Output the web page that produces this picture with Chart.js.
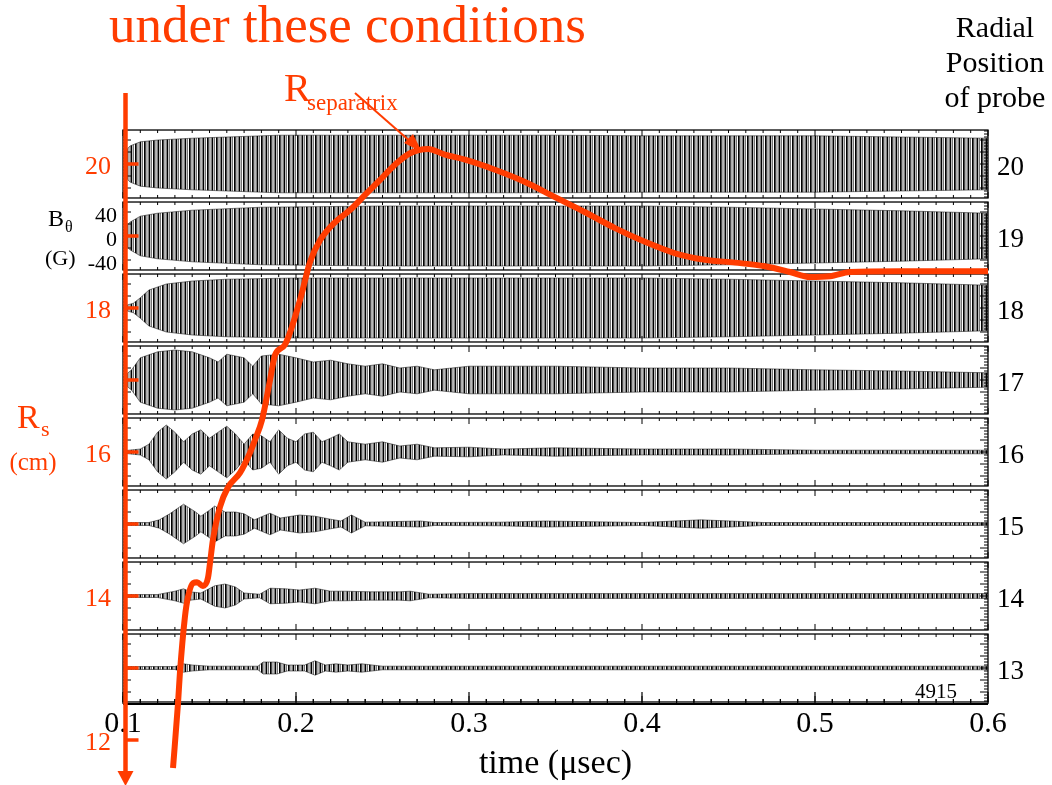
<!DOCTYPE html>
<html><head><meta charset="utf-8">
<script src="https://cdn.jsdelivr.net/npm/chart.js@4.4.1/dist/chart.umd.min.js"></script>
<style>html,body{margin:0;padding:0;background:#fff;}canvas{display:block}</style>
</head><body>
<canvas id="c" width="1052" height="785"></canvas>
<script>
// ---------- data ----------
const timeTicks = [0.1, 0.2, 0.3, 0.4, 0.5, 0.6];
const probePositions = [20, 19, 18, 17, 16, 15, 14, 13];
const rsLabels = [12, 14, 16, 18, 20];
const rsTicks = [12, 13, 14, 15, 16, 17, 18, 19, 20];
const bLabels = [40, 0, -40];

// R_separatrix (cm) vs time (usec)
const sepTime = [0.1289,0.1318,0.1329,0.1358,0.1376,0.1405,0.1428,0.1462,0.1491,0.1503,0.1520,0.1561,0.1607,0.1676,0.1734,0.1763,0.1803,0.1850,0.1879,0.1936,0.2023,0.2081,0.2139,0.2225,0.2312,0.2399,0.2486,0.2572,0.2659,0.2763,0.2861,0.2977,0.3150,0.3324,0.3497,0.3671,0.3844,0.4017,0.4191,0.4364,0.4538,0.4711,0.4855,0.4971,0.5087,0.5202,0.5491,0.6000];
const sepRadius = [11.61,12.51,12.93,13.71,13.99,14.18,14.19,14.14,14.25,14.46,14.78,15.24,15.51,15.71,15.99,16.17,16.44,17.00,17.35,17.49,18.11,18.64,18.94,19.19,19.36,19.57,19.78,19.99,20.15,20.21,20.13,20.06,19.92,19.75,19.54,19.33,19.11,18.92,18.76,18.67,18.63,18.58,18.50,18.43,18.44,18.50,18.51,18.51];

// B_theta envelope amplitude (G) of each probe signal
const env20Time = [0.100,0.104,0.110,0.120,0.140,0.160,0.190,0.250,0.300,0.350,0.400,0.450,0.500,0.550,0.600];
const env20Amp  = [17,30,37,40,43,45,48,48,48,48,47,47,47,45,43];
const env19Time = [0.100,0.104,0.110,0.120,0.140,0.180,0.250,0.300,0.350,0.400,0.450,0.500,0.550,0.600];
const env19Amp  = [10,23,33,38,43,48,50,50,50,50,48,45,42,38];
const env18Time = [0.100,0.106,0.110,0.115,0.125,0.140,0.160,0.200,0.300,0.400,0.450,0.500,0.550,0.600];
const env18Amp  = [3,8,17,30,40,45,48,50,50,50,48,45,42,38];
const env17Time = [0.100,0.105,0.110,0.120,0.130,0.140,0.150,0.155,0.160,0.170,0.175,0.180,0.190,0.200,0.210,0.220,0.230,0.240,0.250,0.260,0.270,0.280,0.290,0.300,0.320,0.350,0.400,0.450,0.500,0.550,0.600];
const env17Amp  = [5,17,37,47,50,47,37,30,43,37,23,40,43,37,30,33,27,23,27,20,23,17,20,23,23,23,20,20,17,15,12];
const env16Time = [0.100,0.110,0.115,0.120,0.125,0.130,0.135,0.140,0.145,0.150,0.155,0.160,0.165,0.170,0.175,0.180,0.185,0.190,0.195,0.200,0.205,0.210,0.215,0.220,0.225,0.230,0.240,0.250,0.260,0.270,0.280,0.300,0.320,0.350,0.400,0.450,0.500,0.550,0.600];
const env16Amp  = [2,5,13,33,45,33,17,30,37,23,33,43,30,13,30,27,17,37,23,17,30,33,17,23,30,17,13,17,10,13,7,8,5,7,5,5,3,3,3];
const env15Time = [0.100,0.115,0.121,0.127,0.135,0.142,0.145,0.150,0.153,0.159,0.165,0.170,0.176,0.185,0.191,0.202,0.211,0.220,0.226,0.232,0.240,0.272,0.280,0.318,0.344,0.400,0.434,0.451,0.470,0.600];
const env15Amp  = [2.5,2.5,7,17,33,20,13,23,30,20,20,17,7,18,10,15,13,8,5,15,3,5,2.5,3,5,2.5,7,5,2.5,2.5];
const env14Time = [0.100,0.120,0.130,0.135,0.139,0.145,0.153,0.159,0.165,0.170,0.179,0.185,0.194,0.202,0.211,0.220,0.228,0.243,0.260,0.266,0.277,0.300,0.600];
const env14Amp  = [2.5,2.5,8,12,7,5,17,20,15,5,3,13,12,10,13,8,8,7,7,8,3,4,4];
const env13Time = [0.100,0.130,0.135,0.140,0.150,0.178,0.181,0.189,0.195,0.205,0.211,0.217,0.223,0.230,0.238,0.250,0.600];
const env13Amp  = [2.5,2.5,7,5,3,3,10,10,5,5,12,5,7,5,7,3,3];

// ---------- styling / helpers ----------
const ORANGE = '#ff3c00';
const SERIF = '"Liberation Serif", "Times New Roman", serif';
const G_TO_CM = 0.6 / 72;     // gauss -> cm on the shared radial scale
const PANEL_HALF = 0.472;     // half height of a probe panel, cm

const panels = [
  {r: 20, t: env20Time, a: env20Amp}, {r: 19, t: env19Time, a: env19Amp},
  {r: 18, t: env18Time, a: env18Amp}, {r: 17, t: env17Time, a: env17Amp},
  {r: 16, t: env16Time, a: env16Amp}, {r: 15, t: env15Time, a: env15Amp},
  {r: 14, t: env14Time, a: env14Amp}, {r: 13, t: env13Time, a: env13Amp}
];

// oscillation texture (dense strokes)
const pc = document.createElement('canvas');
pc.width = 9; pc.height = 4;
const pctx = pc.getContext('2d');
for (let k = 0; k < 2; k++) {
  const x0 = k * 4.5;
  pctx.fillStyle = '#000'; pctx.fillRect(x0, 0, 1.7, 4);
  pctx.fillStyle = 'rgba(0,0,0,0.55)'; pctx.fillRect(x0 + 2.4, 0, 1.1, 4);
}
const wavePattern = pctx.createPattern(pc, 'repeat');

const datasets = [];
panels.forEach(p => {
  datasets.push({
    data: p.t.map((t, i) => ({x: t, y: p.r + p.a[i] * G_TO_CM})),
    borderColor: 'rgba(0,0,0,0.6)', borderWidth: 0.8, pointRadius: 0, fill: false, order: 1
  });
  datasets.push({
    data: p.t.map((t, i) => ({x: t, y: p.r - p.a[i] * G_TO_CM})),
    borderColor: 'rgba(0,0,0,0.6)', borderWidth: 0.8, pointRadius: 0, fill: '-1',
    backgroundColor: wavePattern, order: 1
  });
});
datasets.push({
  data: sepTime.map((t, i) => ({x: t, y: sepRadius[i]})),
  borderColor: ORANGE, borderWidth: 6, pointRadius: 0, fill: false,
  cubicInterpolationMode: 'monotone', clip: false, order: -1, borderCapStyle: 'butt'
});

function text(ctx, s, x, y, size, color, align, baseline) {
  ctx.font = size + 'px ' + SERIF;
  ctx.fillStyle = color;
  ctx.textAlign = align || 'left';
  ctx.textBaseline = baseline || 'alphabetic';
  ctx.fillText(s, x, y);
}

const framePlugin = {
  id: 'frames',
  beforeDatasetsDraw(chart) {
    const ctx = chart.ctx, xs = chart.scales.x, ys = chart.scales.y;
    const L = xs.left, R = xs.right;
    ctx.save();
    ctx.strokeStyle = '#000';
    probePositions.forEach(p => {
      const top = ys.getPixelForValue(p + PANEL_HALF);
      const bot = ys.getPixelForValue(p - PANEL_HALF);
      ctx.lineWidth = 1.3;
      ctx.strokeRect(L, top, R - L, bot - top);
      ctx.lineWidth = 1;
      ctx.beginPath();
      for (let k = 0; k <= 50; k++) {
        const x = xs.getPixelForValue(0.1 + k * 0.01);
        const len = (k % 10 === 0) ? 6 : 3;
        ctx.moveTo(x, top); ctx.lineTo(x, top + len);
        ctx.moveTo(x, bot); ctx.lineTo(x, bot - len);
      }
      for (let g = -55; g <= 55; g += 5) {
        const y = ys.getPixelForValue(p + g * G_TO_CM);
        const len = (g % 20 === 0) ? 8 : 4;
        ctx.moveTo(L, y); ctx.lineTo(L + len, y);
        ctx.moveTo(R, y); ctx.lineTo(R - len, y);
      }
      ctx.stroke();
    });
    // bottom time axis
    const yb = chart.chartArea.bottom;
    ctx.lineWidth = 2;
    ctx.beginPath(); ctx.moveTo(L, yb); ctx.lineTo(R, yb); ctx.stroke();
    ctx.lineWidth = 1.2;
    ctx.beginPath();
    for (let k = 0; k <= 50; k++) {
      const x = xs.getPixelForValue(0.1 + k * 0.01);
      const len = (k % 10 === 0) ? 12 : 5;
      ctx.moveTo(x, yb); ctx.lineTo(x, yb - len);
    }
    ctx.stroke();
    ctx.restore();
  },
  afterDraw(chart) {
    const ctx = chart.ctx, xs = chart.scales.x, ys = chart.scales.y;
    ctx.save();
    // orange R_s axis
    const ax = xs.left + 2.5;
    ctx.strokeStyle = ORANGE; ctx.fillStyle = ORANGE;
    ctx.lineWidth = 4.5;
    ctx.beginPath(); ctx.moveTo(ax, 93); ctx.lineTo(ax, 772); ctx.stroke();
    ctx.beginPath(); ctx.moveTo(ax - 8, 771); ctx.lineTo(ax + 8, 771); ctx.lineTo(ax, 786); ctx.closePath(); ctx.fill();
    ctx.lineWidth = 3.5;
    ctx.beginPath();
    rsTicks.forEach(v => { const y = ys.getPixelForValue(v); ctx.moveTo(ax, y); ctx.lineTo(ax + 13, y); });
    ctx.stroke();
    rsLabels.forEach(v => text(ctx, String(v), 111, ys.getPixelForValue(v) + 3, 26, ORANGE, 'right', 'middle'));
    // R_s label
    text(ctx, 'R', 17, 428, 34, ORANGE);
    text(ctx, 's', 41, 436, 22, ORANGE);
    text(ctx, '(cm)', 33, 470, 25, ORANGE, 'center');
    // B_theta labels (probe 19 panel)
    text(ctx, 'B', 48, 226, 24, '#000');
    text(ctx, 'θ', 65, 232, 16, '#000');
    text(ctx, '(G)', 45, 265, 22, '#000');
    bLabels.forEach(b => text(ctx, String(b), 117, ys.getPixelForValue(19 + b * G_TO_CM) + 4, 22, '#000', 'right', 'middle'));
    // title & annotations
    text(ctx, 'under these conditions', 109, 42, 53, ORANGE);
    text(ctx, 'R', 284, 101, 40, ORANGE);
    text(ctx, 'separatrix', 307, 110, 23, ORANGE);
    ctx.strokeStyle = ORANGE; ctx.lineWidth = 2;
    ctx.beginPath(); ctx.moveTo(355, 93); ctx.lineTo(412, 143); ctx.stroke();
    ctx.beginPath(); ctx.moveTo(422, 152); ctx.lineTo(404, 143); ctx.lineTo(413, 134); ctx.closePath(); ctx.fill();
    ['Radial', 'Position', 'of probe'].forEach((s, i) => text(ctx, s, 995, 37 + i * 35, 30, '#000', 'center'));
    text(ctx, '4915', 957, 698, 21, '#000', 'right');
    ctx.restore();
  }
};

new Chart(document.getElementById('c'), {
  type: 'line',
  data: {datasets},
  options: {
    responsive: false, animation: false, devicePixelRatio: 1,
    layout: {padding: {left: 123, right: 0, top: 128, bottom: 0}},
    plugins: {legend: {display: false}, tooltip: {enabled: false}, filler: {propagate: false}},
    scales: {
      x: {
        type: 'linear', min: 0.1, max: 0.6, position: 'bottom',
        afterBuildTicks: s => { s.ticks = timeTicks.map(v => ({value: v})); },
        afterFit: s => { s.height = 81; },
        grid: {display: false, drawTicks: false}, border: {display: false},
        ticks: {padding: 2, color: '#000', autoSkip: false, maxRotation: 0,
          font: {family: SERIF, size: 30}, callback: v => Number(v).toFixed(1)},
        title: {display: true, text: 'time (μsec)', color: '#000',
          font: {family: SERIF, size: 34}, padding: {top: 0, bottom: 1}}
      },
      y: {type: 'linear', min: 12.5, max: 20.5, display: false},
      y2: {
        type: 'linear', position: 'right', min: 12.5, max: 20.5,
        afterBuildTicks: s => { s.ticks = probePositions.map(v => ({value: v})); },
        afterFit: s => { s.width = 64; },
        grid: {display: false, drawTicks: false}, border: {display: false},
        ticks: {padding: 9, color: '#000', labelOffset: 4, font: {family: SERIF, size: 27},
          callback: v => String(v)}
      }
    }
  },
  plugins: [framePlugin]
});
</script>
</body></html>
